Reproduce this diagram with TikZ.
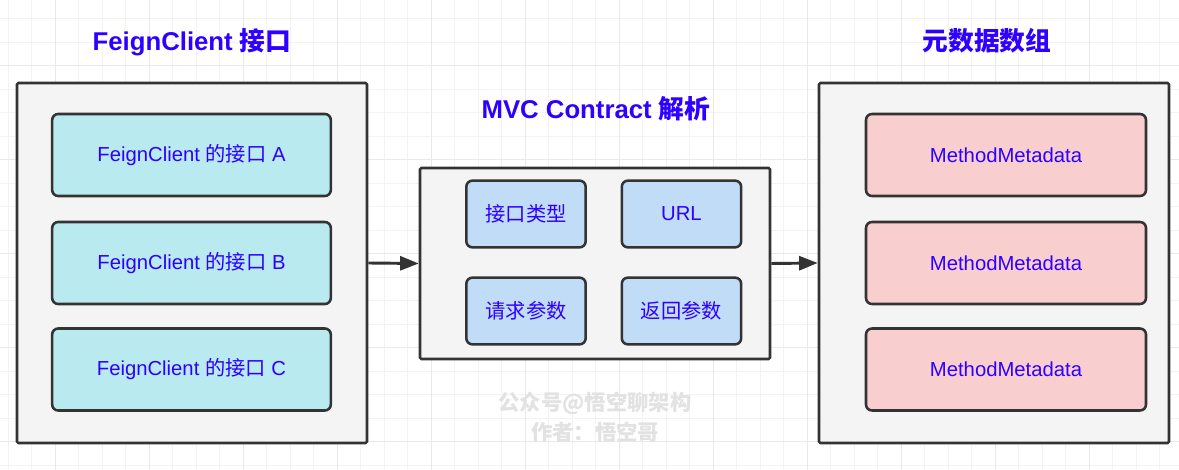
\documentclass[tikz,border=0pt]{standalone}
\usepackage{fontspec}
\setmainfont{Liberation Sans}
\newfontfamily\cjk{Noto Sans CJK SC}
\usetikzlibrary{arrows.meta}
\definecolor{txtblue}{RGB}{45,0,255}
\definecolor{strk}{HTML}{333333}
\definecolor{panelfill}{HTML}{F4F4F4}
\definecolor{cyanfill}{HTML}{B9EAF0}
\definecolor{bluefill}{HTML}{C1DCF7}
\definecolor{pinkfill}{HTML}{F9CECF}
\definecolor{gridminor}{HTML}{F3F3F3}
\definecolor{gridmajor}{HTML}{E9E9E9}
\definecolor{wmark}{HTML}{E2E2E2}
\tikzset{
  panel/.style={draw=strk, line width=1.9pt, fill=panelfill, rounded corners=1pt, inner sep=0pt},
  item/.style={draw=strk, line width=1.9pt, rounded corners=4.5pt, inner sep=0pt, text=txtblue, font=\fontsize{15.2}{18}\selectfont},
  feign/.style={item, fill=cyanfill, minimum width=209pt, minimum height=61.5pt},
  parse/.style={item, fill=bluefill, minimum width=89.5pt, minimum height=50pt},
  meta/.style={item, fill=pinkfill, minimum width=210pt, minimum height=61.5pt},
  title/.style={text=txtblue, font=\fontsize{19.3}{23}\selectfont\bfseries, inner sep=0pt},
  wm/.style={text=wmark, font=\cjk\bfseries\fontsize{16}{19}\selectfont, inner sep=0pt},
  arrow/.style={draw=strk, line width=2.2pt, -{Triangle[length=14pt,width=10.5pt]}}
}
\begin{document}
\begin{tikzpicture}[x=0.75pt,y=-0.75pt]
\useasboundingbox (0,0) rectangle (1179,470);
\fill[white] (0,0) rectangle (1179,470);
% grid
\foreach \k in {0,...,50} {
  \draw[gridminor, line width=0.75pt] ({8+23.5*\k},0) -- ({8+23.5*\k},470);
}
\foreach \k in {0,...,19} {
  \draw[gridminor, line width=0.75pt] (0,{19+23.5*\k}) -- (1179,{19+23.5*\k});
}
\foreach \k in {0,...,12} {
  \draw[gridmajor, line width=0.75pt] ({55+94*\k},0) -- ({55+94*\k},470);
}
\foreach \k in {0,...,4} {
  \draw[gridmajor, line width=0.75pt] (0,{66+94*\k}) -- (1179,{66+94*\k});
}
% titles
\node[title] (t1) at (192,42) {FeignClient {\cjk\bfseries 接口}};
\node[title] (t2) at (596,109) {MVC Contract {\cjk\bfseries 解析}};
\node[title] (t3) at (987,41) {\cjk\bfseries 元数据数组};
% panels
\node[panel, minimum width=262.5pt, minimum height=270pt] (L) at (192,263) {};
\node[panel, minimum width=262.5pt, minimum height=143.25pt] (M) at (595,263.5) {};
\node[panel, minimum width=262.5pt, minimum height=270pt] (R) at (994,263) {};
% left items
\node[feign] (fa) at (191.5,155) {FeignClient {\cjk 的接口} A};
\node[feign] (fb) at (191.5,263) {FeignClient {\cjk 的接口} B};
\node[feign] (fc) at (191.5,369.5) {FeignClient {\cjk 的接口} C};
% middle items
\node[parse] (p1) at (526,214) {\cjk 接口类型};
\node[parse] (p2) at (681.5,214) {URL};
\node[parse] (p3) at (526,311) {\cjk 请求参数};
\node[parse] (p4) at (681.5,311) {\cjk 返回参数};
% right items
\node[meta] (m1) at (1006,155) {MethodMetadata};
\node[meta] (m2) at (1006,263) {MethodMetadata};
\node[meta] (m3) at (1006,369.5) {MethodMetadata};
% arrows
\draw[arrow] (L.east) -- (M.west);
\draw[arrow] (M.east) -- (R.west);
% watermark
\node[wm] (w1) at (595,403) {公众号@悟空聊架构};
\node[wm] (w2) at (595,432) {作者：悟空哥};
\end{tikzpicture}
\end{document}
